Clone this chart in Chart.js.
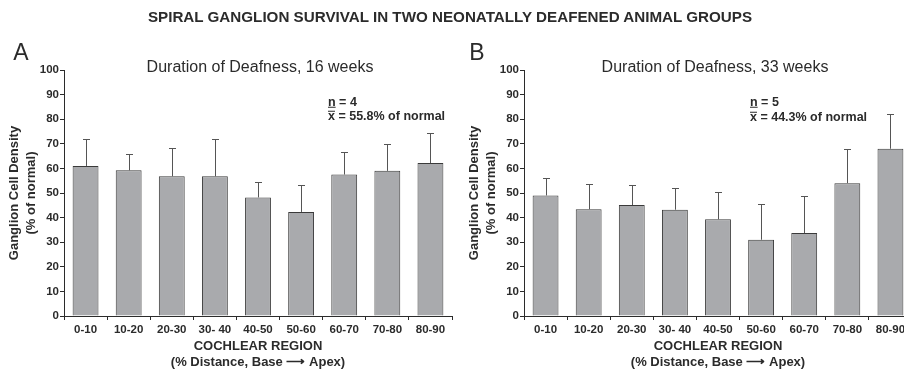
<!DOCTYPE html>
<html>
<head>
<meta charset="utf-8">
<script src="https://cdn.jsdelivr.net/npm/chart.js@4.4.1/dist/chart.umd.min.js"></script>
<style>
  html, body { margin: 0; padding: 0; background: #fff; }
  body { width: 904px; height: 374px; overflow: hidden; position: relative;
         font-family: "Liberation Sans", Arial, sans-serif; color: #2b2b2b; }
  .box { position: absolute; top: 0; width: 460px; height: 374px; }
  .txt { position: absolute; white-space: nowrap; line-height: 1; z-index: 2; }
  .c { transform: translate(-50%, -50%); }
  .l { transform: translateY(-50%); font-weight: bold; font-size: 12.5px; }
  .un { text-decoration: underline; }
  .ov { display: inline-block; border-top: 1.4px solid #2b2b2b; line-height: 0.62em; padding-top: 1px; }
</style>
</head>
<body>
<div class="txt c" style="left:450px; top:17px; font-weight:bold; font-size:15.2px;">SPIRAL GANGLION SURVIVAL IN TWO NEONATALLY DEAFENED ANIMAL GROUPS</div>

<div class="txt c" style="left:21px; top:52px; font-size:23px;">A</div>
<div class="txt c" style="left:260px; top:67px; font-size:16px;">Duration of Deafness, 16 weeks</div>
<div class="txt l" style="left:328px; top:102px;"><span class="un">n</span> = 4</div>
<div class="txt l" style="left:328px; top:115.5px;"><span class="ov">x</span> = 55.8% of normal</div>

<div class="txt c" style="left:477px; top:52px; font-size:23px;">B</div>
<div class="txt c" style="left:715px; top:67px; font-size:16px;">Duration of Deafness, 33 weeks</div>
<div class="txt l" style="left:750px; top:102px;"><span class="un">n</span> = 5</div>
<div class="txt l" style="left:750px; top:117px;"><span class="ov">x</span> = 44.3% of normal</div>

<div class="box" style="left:0"><canvas id="chartA" width="460" height="374"></canvas></div>
<div class="box" style="left:460px"><canvas id="chartB" width="460" height="374"></canvas></div>

<script>
// cochlear regions (% distance, base -> apex)
const regions = ['0-10', '10-20', '20-30', '30- 40', '40-50', '50-60', '60-70', '70-80', '80-90'];

// 16 weeks deafness: mean and SD (% of normal)
const meanA = [61, 59.2, 56.8, 56.8, 48.2, 42.3, 57.5, 59, 62.2];
const sdA = [10.8, 6.8, 11.6, 15, 6.2, 10.8, 9.3, 11, 12.2];

// 33 weeks deafness
const meanB = [49, 43.4, 45.1, 43.2, 39.3, 31, 33.7, 54, 68];
const sdB = [6.9, 10.3, 8.2, 9, 11, 14.4, 15, 14, 14];

const yTicks = [0, 10, 20, 30, 40, 50, 60, 70, 80, 90, 100];

const ink = '#2b2b2b';
const fontFam = '"Liberation Sans", Arial, sans-serif';

// draws the +SD whiskers on top of each bar
const errorBars = {
  id: 'errorBars',
  afterDatasetsDraw(chart, args, opts) {
    const ctx = chart.ctx;
    const yScale = chart.scales.y;
    const meta = chart.getDatasetMeta(0);
    const vals = chart.data.datasets[0].data;
    ctx.save();
    ctx.strokeStyle = '#555';
    ctx.lineWidth = 1;
    meta.data.forEach((bar, i) => {
      const x = Math.round(bar.x) + 0.5;
      const yTop = Math.round(yScale.getPixelForValue(vals[i] + opts.sd[i])) + 0.5;
      ctx.beginPath();
      ctx.moveTo(x, bar.y);
      ctx.lineTo(x, yTop);
      ctx.moveTo(x - 3.5, yTop);
      ctx.lineTo(x + 3.5, yTop);
      ctx.stroke();
    });
    ctx.restore();
  }
};

function makeChart(id, means, sds) {
  return new Chart(document.getElementById(id), {
    type: 'bar',
    data: {
      labels: regions,
      datasets: [{
        data: means,
        backgroundColor: '#a9aaad',
        borderColor: '#3a3a3a',
        borderWidth: 1,
        barPercentage: 0.6,
        categoryPercentage: 1
      }]
    },
    options: {
      responsive: false,
      animation: false,
      events: [],
      layout: { padding: { top: 70, right: 8, left: 0, bottom: 0 } },
      plugins: {
        legend: { display: false },
        tooltip: { enabled: false },
        errorBars: { sd: sds }
      },
      scales: {
        x: {
          afterFit: s => { s.height = 58; },
          grid: { drawOnChartArea: false, drawTicks: true, tickLength: 4, color: ink },
          border: { color: ink, width: 1 },
          ticks: { color: ink, padding: 3, maxRotation: 0, autoSkip: false,
                   font: { family: fontFam, size: 11.5, weight: 'bold' } },
          title: {
            display: true,
            text: ['COCHLEAR REGION', '(% Distance, Base \u27F6 Apex)'],
            color: ink,
            padding: { top: 0, bottom: 4 },
            font: { family: fontFam, size: 13, weight: 'bold', lineHeight: '16px' }
          }
        },
        y: {
          min: 0,
          max: 100,
          afterFit: s => { s.width = 64; },
          afterBuildTicks: s => { s.ticks = yTicks.map(v => ({ value: v })); },
          grid: { drawOnChartArea: false, drawTicks: true, tickLength: 4, color: ink },
          border: { color: ink, width: 1 },
          ticks: { color: ink, padding: 1,
                   font: { family: fontFam, size: 11.5, weight: 'bold' } },
          title: {
            display: true,
            text: ['Ganglion Cell Density', '(% of normal)'],
            color: ink,
            padding: { top: 5.5, bottom: 0 },
            font: { family: fontFam, size: 13, weight: 'bold', lineHeight: '17px' }
          }
        }
      }
    },
    plugins: [errorBars]
  });
}

makeChart('chartA', meanA, sdA);
makeChart('chartB', meanB, sdB);
</script>
</body>
</html>
